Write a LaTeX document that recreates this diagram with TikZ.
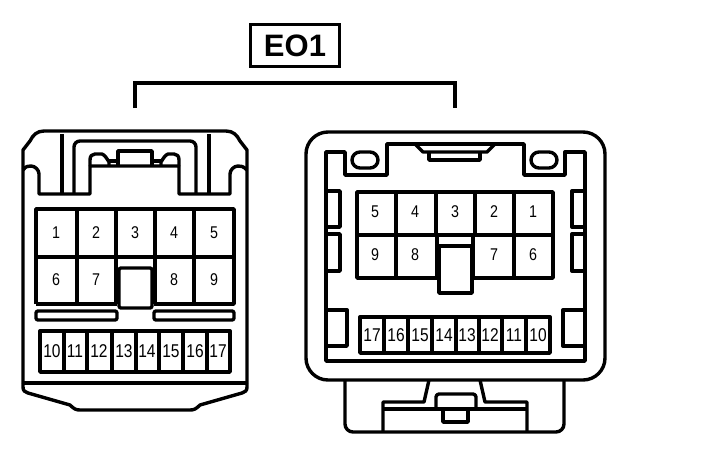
\documentclass[tikz,border=0pt]{standalone}
\usepackage{fontspec}
\setmainfont{Liberation Sans}
\newfontfamily\pinfont[FakeStretch=0.84]{Liberation Sans}
\begin{document}
\begin{tikzpicture}[x=1pt,y=-1pt]
        \tikzstyle{wall}=[line width=3.4pt, line join=round, draw=black]
        \tikzstyle{tag}=[rectangle, line width=3.4pt, draw=black, minimum width=89pt, minimum height=42pt, inner sep=0pt, font=\bfseries\fontsize{31}{31}\selectfont]
        \tikzstyle{pin}=[inner sep=0pt, font=\pinfont\fontsize{17}{18}\selectfont]
        \tikzstyle{pinsmall}=[inner sep=0pt, font=\pinfont\fontsize{18.5}{19}\selectfont]
        \useasboundingbox (0,0) rectangle (704,456);
        % label and bracket
        \node[tag] (eo) at (295,45.5) {EO1};
        \coordinate (brl) at (135,108);
        \coordinate (brr) at (455,108);
        \draw[line width=4.4pt] (brl) |- (295,83) -| (brr);
        % left connector, shell
        \draw[wall] (23,383) -- (23,150) -- (30,141) .. controls (33,135) and (37,131) .. (44,131) -- (226,131) .. controls (233,131) and (237,135) .. (240,141) -- (247,150) -- (247,383);
        \draw[wall] (23,383) -- (247,383);
        \draw[wall] (23,383) -- (23,387) .. controls (23,391) and (25,392) .. (28,393) -- (70,405) .. controls (74,409) and (76,410) .. (80,410) -- (190,410) .. controls (194,410) and (196,409) .. (200,405) -- (242,393) .. controls (245,392) and (247,391) .. (247,387) -- (247,383);
        \draw[wall] (23,170) .. controls (26,166) and (28,166) .. (31,166) .. controls (35,166) and (39,170) .. (39,174) -- (39,194) -- (90,194) -- (90,166) -- (179,166) -- (179,194) -- (230,194) -- (230,174) .. controls (230,170) and (234,166) .. (238,166) .. controls (241,166) and (243,166) .. (247,170);
        \draw[wall] (62,134) -- (62,194);
        \draw[wall] (209,134) -- (209,194);
        \draw[wall, rounded corners=6pt] (74,194) -- (74,141) -- (196,141) -- (196,194);
        % left connector, latch
        \draw[wall] (90,166) -- (90,160) .. controls (90,156) and (92,154) .. (95,154) -- (102,154) .. controls (105,155) and (107,159) .. (109,162) -- (109,166);
        \draw[wall] (179,166) -- (179,160) .. controls (179,156) and (177,154) .. (174,154) -- (168,154) .. controls (165,155) and (163,159) .. (161,162) -- (161,166);
        \draw[wall] (109,161) -- (118,161);
        \draw[wall] (152,161) -- (161,161);
        \draw[wall] (118,166) -- (118,151) -- (152,151) -- (152,166);
        % left connector, cavities
        \draw[wall] (36,304) -- (36,209) -- (234,209) -- (234,304) -- (154,304);
        \draw[wall] (36,304) -- (117,304);
        \draw[wall] (36,257) -- (234,257);
        \foreach \gx in {77,194} \draw[wall] (\gx,209) -- (\gx,304);
        \draw[wall] (116,209) -- (116,304);
        \draw[wall] (155,209) -- (155,304);
        \draw[wall, rounded corners=2pt] (119,268) rectangle (152,308);
        \draw[wall, rounded corners=2pt] (36,311) rectangle (117,320);
        \draw[wall, rounded corners=2pt] (154,311) rectangle (234,320);
        \draw[wall] (40,331) rectangle (230,372);
        \foreach \gx in {64,87,112,136,159,183,207} \draw[wall] (\gx,331) -- (\gx,372);
        % left connector, numbers
        \foreach \lab/\gx in {1/56,2/96,3/135,4/174,5/214} \node[pin] (la\lab) at (\gx,233) {\lab};
        \foreach \lab/\gx in {6/56,7/96,8/174,9/214} \node[pin] (la\lab) at (\gx,280) {\lab};
        \foreach \lab/\gx in {10/52,11/75,12/99,13/124,14/147,15/171,16/195,17/218} \node[pinsmall] (la\lab) at (\gx,351) {\lab};
        % right connector, shell
        \draw[wall, rounded corners=22pt] (306,380) rectangle (605,132);
        \draw[wall] (326,361) -- (326,152) -- (345,152) -- (345,175) -- (387,175) -- (387,144) -- (524,144) -- (524,175) -- (565,175) -- (565,152) -- (585,152) -- (585,361) -- cycle;
        \draw[wall] (415,144) -- (423,152) -- (487,152) -- (495,144);
        \draw[wall] (429,152) -- (429,160) -- (480,160) -- (480,152);
        \draw[wall, rounded corners=8pt] (352,152) rectangle (378,168);
        \draw[wall, rounded corners=8pt] (531,152) rectangle (557,168);
        % right connector, side tabs
        \draw[wall] (326,191) -- (340,191) -- (340,227) -- (326,227);
        \draw[wall] (326,234) -- (340,234) -- (340,271) -- (326,271);
        \draw[wall] (585,191) -- (572,191) -- (572,227) -- (585,227);
        \draw[wall] (585,234) -- (572,234) -- (572,271) -- (585,271);
        \draw[wall] (326,310) -- (347,310) -- (347,346) -- (326,346);
        \draw[wall] (585,310) -- (563,310) -- (563,346) -- (585,346);
        % right connector, cavities
        \draw[wall] (357,192) rectangle (553,235);
        \draw[wall] (357,235) -- (357,278) -- (437,278) -- (437,235);
        \draw[wall] (473,235) -- (473,278) -- (553,278) -- (553,235);
        \foreach \gx in {396,514} \draw[wall] (\gx,192) -- (\gx,278);
        \foreach \gx in {436,475} \draw[wall] (\gx,192) -- (\gx,235);
        \draw[wall] (439,246) rectangle (472,293);
        \draw[wall] (360,317) rectangle (550,353);
        \foreach \gx in {384,408,432,456,479,502,526} \draw[wall] (\gx,317) -- (\gx,353);
        % right connector, numbers
        \foreach \lab/\gx in {5/375,4/415,3/455,2/494,1/533} \node[pin] (ra\lab) at (\gx,212) {\lab};
        \foreach \lab/\gx in {9/375,8/415,7/494,6/533} \node[pin] (ra\lab) at (\gx,255) {\lab};
        \foreach \lab/\gx in {17/372,16/396,15/420,14/444,13/467,12/490,11/514,10/538} \node[pinsmall] (ra\lab) at (\gx,335) {\lab};
        % right connector, lower housing
        \draw[wall, rounded corners=8pt] (345,380) -- (345,432) -- (564,432) -- (564,380);
        \draw[wall] (429,380) -- (424,402) -- (383,402) -- (383,432);
        \draw[wall] (480,380) -- (485,402) -- (527,402) -- (527,432);
        \draw[wall] (383,409) -- (527,409);
        \draw[wall, rounded corners=3pt] (436,409) -- (436,394) -- (476,394) -- (476,409);
        \draw[wall] (443,409) -- (443,422) -- (468,422) -- (468,409);
      \end{tikzpicture}
\end{document}
